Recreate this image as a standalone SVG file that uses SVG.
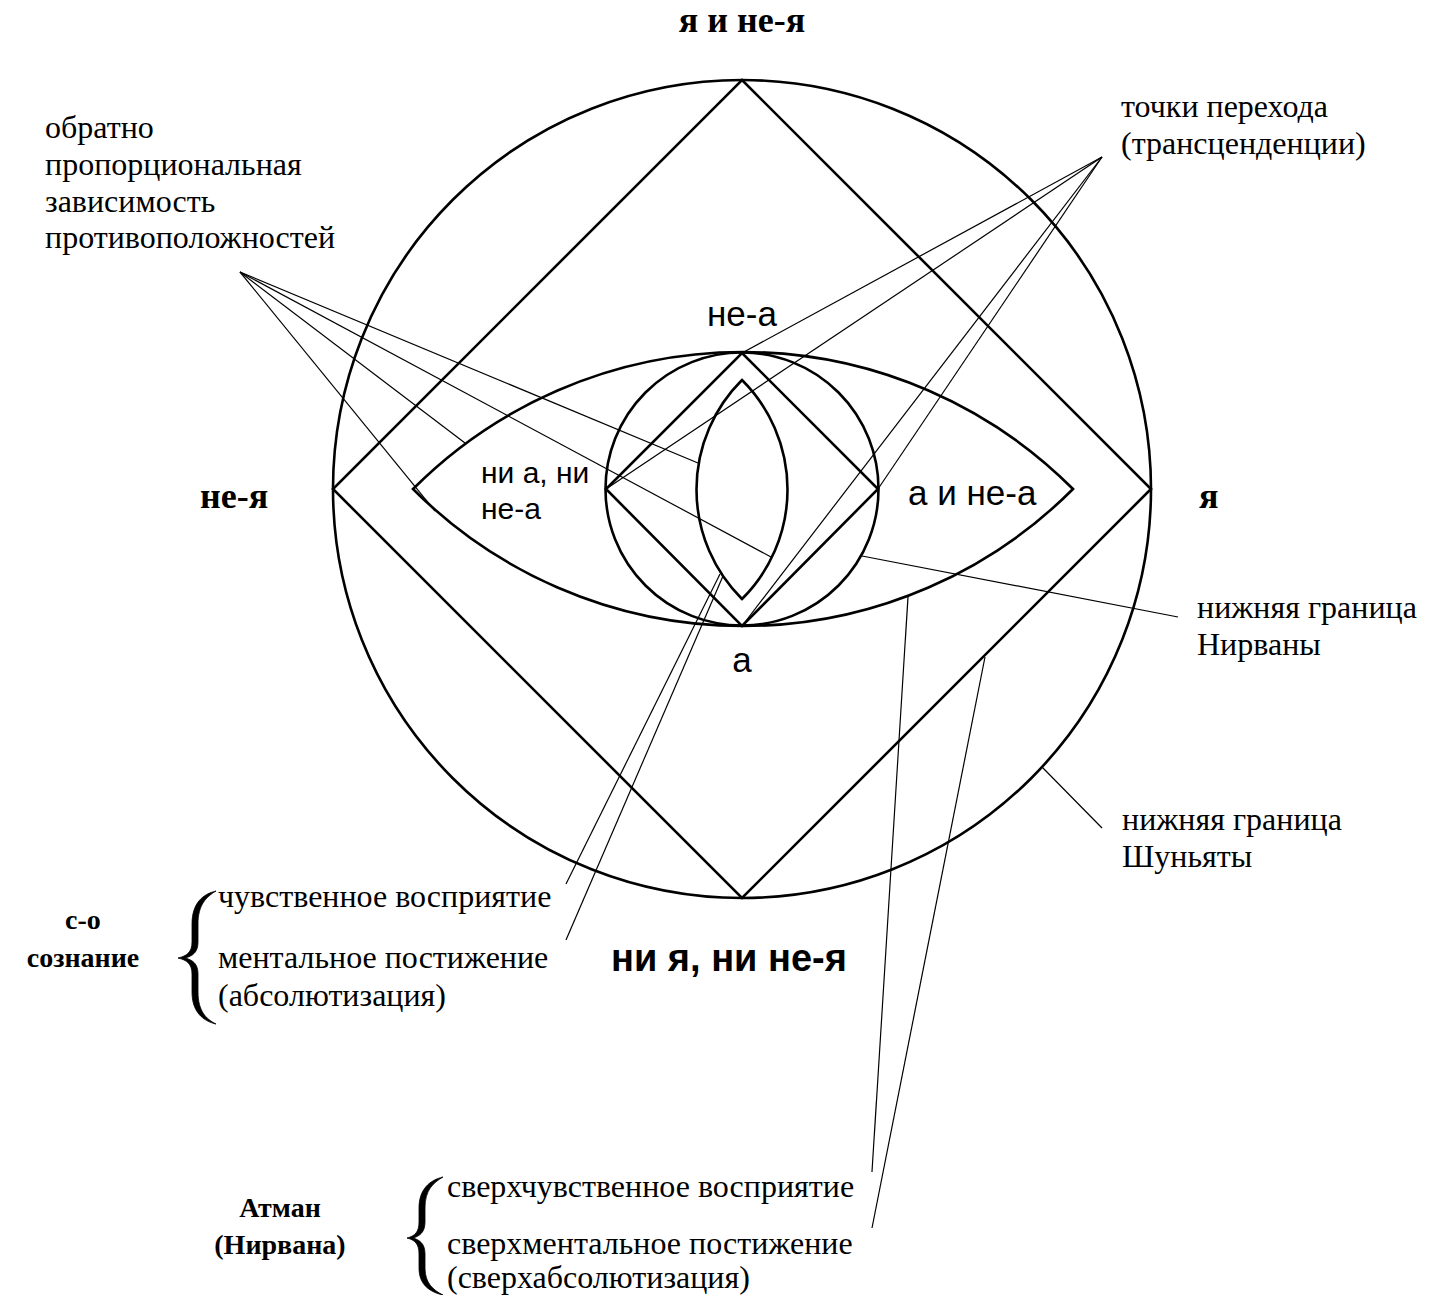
<svg xmlns="http://www.w3.org/2000/svg" width="1436" height="1295" viewBox="0 0 1436 1295">
<style>
.shape{fill:none;stroke:#000;stroke-width:2.6}
.lead{fill:none;stroke:#000;stroke-width:1.2}
.brace{fill:#000;stroke:#000;stroke-width:0.8}
.t{font-family:"Liberation Serif","Times New Roman",serif;font-size:32px;fill:#000}
.s{font-family:"Liberation Sans",Arial,sans-serif;font-size:30px;fill:#000}
.sm{font-family:"Liberation Sans",Arial,sans-serif;font-size:35px;fill:#000}
.b{font-family:"Liberation Serif","Times New Roman",serif;font-weight:bold;font-size:36px;fill:#000}
.bs{font-family:"Liberation Sans",Arial,sans-serif;font-weight:bold;font-size:38px;fill:#000}
.bl{font-family:"Liberation Serif","Times New Roman",serif;font-weight:bold;font-size:28px;fill:#000;text-anchor:middle}
</style>
<rect width="1436" height="1295" fill="#fff"/>
<g id="outer-circle"><circle class="shape" cx="742" cy="489" r="409"/></g>
<g id="outer-diamond"><polygon class="shape" points="742,80 1151,489 742,898 333,489"/></g>
<g id="eye"><path class="shape" d="M413,489 A466,466 0 0 1 1073,489 A466,466 0 0 1 413,489 Z"/></g>
<g id="inner-circle"><circle class="shape" cx="742" cy="489" r="136.5"/></g>
<g id="inner-diamond"><polygon class="shape" points="742,353 878,489 742,626 606,489"/></g>
<g id="lens"><path class="shape" d="M742,380 A154.5,154.5 0 0 1 742,599 A154.5,154.5 0 0 1 742,380 Z"/></g>
<g id="connectors">
<line class="lead" x1="240" y1="272" x2="435" y2="511"/>
<line class="lead" x1="240" y1="272" x2="465" y2="443"/>
<line class="lead" x1="240" y1="272" x2="698" y2="463"/>
<line class="lead" x1="240" y1="272" x2="771" y2="557"/>
<line class="lead" x1="1102" y1="157" x2="742" y2="353"/>
<line class="lead" x1="1102" y1="157" x2="606" y2="489"/>
<line class="lead" x1="1102" y1="157" x2="878" y2="489"/>
<line class="lead" x1="1102" y1="157" x2="742" y2="626"/>
<line class="lead" x1="862" y1="556" x2="1178" y2="617"/>
<line class="lead" x1="1042" y1="767" x2="1102" y2="828"/>
<line class="lead" x1="566" y1="884" x2="720" y2="574"/>
<line class="lead" x1="566" y1="940" x2="723" y2="576"/>
<line class="lead" x1="872" y1="1172" x2="908" y2="597"/>
<line class="lead" x1="872" y1="1228" x2="985" y2="657"/>
</g>
<g id="labels-top">
<text class="b" x="742" y="32" text-anchor="middle">я и не-я</text>
<text class="b" x="200" y="508">не-я</text>
<text class="b" x="1199" y="508">я</text>
<text class="bs" x="611" y="971">ни я, ни не-я</text>
</g>
<g id="labels-inner">
<text class="sm" x="742" y="326" text-anchor="middle">не-а</text>
<text class="sm" x="742" y="672" text-anchor="middle">а</text>
<text class="sm" x="908" y="505">а и не-а</text>
<text class="s" x="481" y="483">ни а, ни</text>
<text class="s" x="481" y="519">не-а</text>
</g>
<g id="note-opposites">
<text class="t" x="45" y="138">обратно</text>
<text class="t" x="45" y="175">пропорциональная</text>
<text class="t" x="45" y="212">зависимость</text>
<text class="t" x="45" y="248">противоположностей</text>
</g>
<g id="note-transcendence">
<text class="t" x="1121" y="117">точки перехода</text>
<text class="t" x="1121" y="154">(трансценденции)</text>
</g>
<g id="note-nirvana">
<text class="t" x="1197" y="618">нижняя граница</text>
<text class="t" x="1197" y="655">Нирваны</text>
</g>
<g id="note-shunyata">
<text class="t" x="1122" y="830">нижняя граница</text>
<text class="t" x="1122" y="867">Шуньяты</text>
</g>
<g id="so-consciousness">
<text class="bl" x="83" y="929">с-о</text>
<text class="bl" x="83" y="967">сознание</text>
<path class="brace" d="M216,891 C203,894 192,903 192,924 L192,942 C192,952 187,956 178,958 C187,960 192,964 192,974 L192,992 C192,1012 203,1021 216,1024 C206,1019 198,1011 198,992 L198,974 C198,964 193,960 185,958 C193,956 198,952 198,942 L198,924 C198,905 206,897 216,891 Z"/>
<text class="t" x="218" y="907">чувственное восприятие</text>
<text class="t" x="218" y="968">ментальное постижение</text>
<text class="t" x="218" y="1006">(абсолютизация)</text>
</g>
<g id="atman">
<text class="bl" x="280" y="1217">Атман</text>
<text class="bl" x="280" y="1254">(Нирвана)</text>
<path class="brace" d="M443,1177 C430,1180 419,1189 419,1208 L419,1222 C419,1232 415,1236 407,1238 C415,1240 419,1244 419,1254 L419,1268 C419,1285 430,1292 443,1295 C433,1290 425,1283 425,1268 L425,1254 C425,1244 420,1240 413,1238 C420,1236 425,1232 425,1222 L425,1208 C425,1190 433,1183 443,1177 Z"/>
<text class="t" x="447" y="1197">сверхчувственное восприятие</text>
<text class="t" x="447" y="1254">сверхментальное постижение</text>
<text class="t" x="447" y="1288">(сверхабсолютизация)</text>
</g>
</svg>
